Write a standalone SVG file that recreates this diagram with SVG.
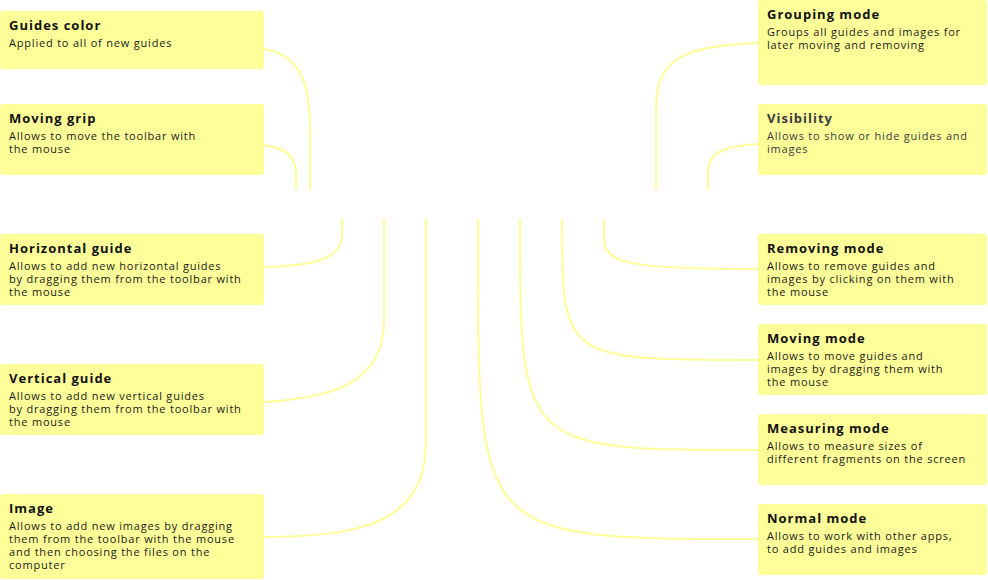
<svg xmlns="http://www.w3.org/2000/svg" width="988" height="580" viewBox="0 0 988 580">
  <style>
    .box { fill: #ffff99; }
    .t { font-family: "Open Sans", "Noto Sans", sans-serif; font-weight: 700; font-size: 13px; letter-spacing: 1px; fill: #111111; }
    .d { font-family: "Open Sans", "Noto Sans", sans-serif; font-size: 11px; letter-spacing: 0.8px; fill: #1a1a1a; }
    .dim .t, .dim .d { fill: #3a3a40; }
    .link { fill: none; stroke: #ffff99; stroke-width: 2; }
  </style>
  <rect width="988" height="580" fill="#ffffff"/>

  <!-- connectors from the toolbar edges to each description card -->
  <g id="connectors">
    <path class="link" d="M264,49 C296,55 310,75 310,130 L310,190"/>
    <path class="link" d="M264,145 C285,148 296,155 296,175 L296,190"/>
    <path class="link" d="M264,267 C310,266 342,260 342,235 L342,219"/>
    <path class="link" d="M264,402 C330,398 384,385 384,320 L384,219"/>
    <path class="link" d="M264,537 C360,536 426,525 426,440 L426,219"/>
    <path class="link" d="M758,43 C680,46 656,60 656,110 L656,190"/>
    <path class="link" d="M758,144 C725,146 708,152 708,172 L708,190"/>
    <path class="link" d="M758,269 C640,269 604,265 604,240 L604,219"/>
    <path class="link" d="M562,219 C562,360 562,360 758,360"/>
    <path class="link" d="M520,219 C520,450 520,450 758,450"/>
    <path class="link" d="M478,219 L478,250 C478,539 478,539 758,539"/>
  </g>

  <!-- left column -->
  <g id="guides-color">
    <rect class="box" x="0" y="11" width="264" height="58" rx="3"/>
    <text class="t" x="9" y="30">Guides color</text>
    <text class="d" x="9" y="47">Applied to all of new guides</text>
  </g>
  <g id="moving-grip">
    <rect class="box" x="0" y="104" width="264" height="71" rx="3"/>
    <text class="t" x="9" y="123">Moving grip</text>
    <text class="d" x="9" y="140">Allows to move the toolbar with</text>
    <text class="d" x="9" y="153">the mouse</text>
  </g>
  <g id="horizontal-guide">
    <rect class="box" x="0" y="234" width="264" height="71" rx="3"/>
    <text class="t" x="9" y="253">Horizontal guide</text>
    <text class="d" x="9" y="270">Allows to add new horizontal guides</text>
    <text class="d" x="9" y="283">by dragging them from the toolbar with</text>
    <text class="d" x="9" y="296">the mouse</text>
  </g>
  <g id="vertical-guide">
    <rect class="box" x="0" y="364" width="264" height="71" rx="3"/>
    <text class="t" x="9" y="383">Vertical guide</text>
    <text class="d" x="9" y="400">Allows to add new vertical guides</text>
    <text class="d" x="9" y="413">by dragging them from the toolbar with</text>
    <text class="d" x="9" y="426">the mouse</text>
  </g>
  <g id="image">
    <rect class="box" x="0" y="494" width="264" height="85" rx="3"/>
    <text class="t" x="9" y="513">Image</text>
    <text class="d" x="9" y="530">Allows to add new images by dragging</text>
    <text class="d" x="9" y="543">them from the toolbar with the mouse</text>
    <text class="d" x="9" y="556">and then choosing the files on the</text>
    <text class="d" x="9" y="569">computer</text>
  </g>

  <!-- right column -->
  <g id="grouping-mode">
    <rect class="box" x="758" y="0" width="229" height="85" rx="3"/>
    <text class="t" x="767" y="19">Grouping mode</text>
    <text class="d" x="767" y="36">Groups all guides and images for</text>
    <text class="d" x="767" y="49">later moving and removing</text>
  </g>
  <g id="visibility" class="dim">
    <rect class="box" x="758" y="104" width="229" height="71" rx="3"/>
    <text class="t" x="767" y="123">Visibility</text>
    <text class="d" x="767" y="140">Allows to show or hide guides and</text>
    <text class="d" x="767" y="153">images</text>
  </g>
  <g id="removing-mode">
    <rect class="box" x="758" y="234" width="229" height="71" rx="3"/>
    <text class="t" x="767" y="253">Removing mode</text>
    <text class="d" x="767" y="270">Allows to remove guides and</text>
    <text class="d" x="767" y="283">images by clicking on them with</text>
    <text class="d" x="767" y="296">the mouse</text>
  </g>
  <g id="moving-mode">
    <rect class="box" x="758" y="324" width="229" height="71" rx="3"/>
    <text class="t" x="767" y="343">Moving mode</text>
    <text class="d" x="767" y="360">Allows to move guides and</text>
    <text class="d" x="767" y="373">images by dragging them with</text>
    <text class="d" x="767" y="386">the mouse</text>
  </g>
  <g id="measuring-mode">
    <rect class="box" x="758" y="414" width="229" height="71" rx="3"/>
    <text class="t" x="767" y="433">Measuring mode</text>
    <text class="d" x="767" y="450">Allows to measure sizes of</text>
    <text class="d" x="767" y="463">different fragments on the screen</text>
  </g>
  <g id="normal-mode">
    <rect class="box" x="758" y="504" width="229" height="71" rx="3"/>
    <text class="t" x="767" y="523">Normal mode</text>
    <text class="d" x="767" y="540">Allows to work with other apps,</text>
    <text class="d" x="767" y="553">to add guides and images</text>
  </g>
</svg>
